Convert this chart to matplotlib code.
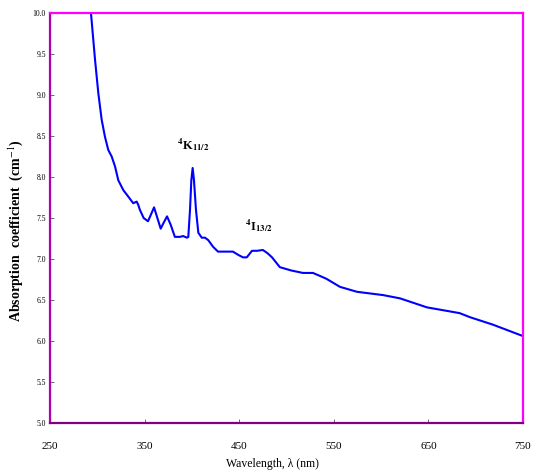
import matplotlib
matplotlib.use("Agg")
import matplotlib.pyplot as plt

plt.rcParams["mathtext.fontset"] = "stix"

# Absorption spectrum (wavelength in nm, absorption coefficient in cm^-1)
wavelength = [292.5, 293.3, 297.6, 301.1, 304.6, 308.1, 311.6, 315.2, 318.7, 322.2,
              327.5, 332.8, 338.0, 341.6, 343.3, 345.0, 349.0, 353.6, 357.0, 360.0,
              363.5, 367.0, 370.5, 373.7, 377.5, 382.0, 387.4, 390.6, 394.8, 396.2,
              398.0, 399.4, 400.8, 402.2, 404.3, 406.8, 410.4, 413.8, 417.3, 422.3,
              427.6, 435.0, 443.4, 449.0, 454.0, 458.0, 463.5, 469.0, 475.0, 480.0,
              484.7, 493.0, 505.0, 517.4, 528.0, 542.0, 556.6, 574.5, 602.0, 620.0,
              648.5, 683.0, 694.0, 718.0, 750.0]
absorption = [10.15, 10.00, 9.43, 9.02, 8.70, 8.49, 8.33, 8.25, 8.13, 7.96,
              7.84, 7.76, 7.68, 7.70, 7.66, 7.60, 7.50, 7.46, 7.55, 7.63,
              7.50, 7.37, 7.45, 7.52, 7.42, 7.27, 7.27, 7.28, 7.26, 7.27,
              7.60, 7.96, 8.11, 7.96, 7.60, 7.32, 7.26, 7.26, 7.23, 7.15,
              7.09, 7.09, 7.09, 7.05, 7.02, 7.02, 7.10, 7.10, 7.11, 7.07,
              7.02, 6.90, 6.86, 6.83, 6.83, 6.76, 6.66, 6.60, 6.56, 6.52,
              6.41, 6.34, 6.29, 6.20, 6.06]

x_ticks = [250, 350, 450, 550, 650, 750]
y_ticks = [5.0, 5.5, 6.0, 6.5, 7.0, 7.5, 8.0, 8.5, 9.0, 9.5, 10.0]

serif = ["Liberation Serif", "DejaVu Serif"]

fig = plt.figure(figsize=(5.34, 4.70), dpi=100)
ax = fig.add_axes([50 / 534, 47 / 470, 473 / 534, 410 / 470])

ax.plot(wavelength, absorption, color="#0000ff", lw=1.5,
        solid_joinstyle="round", solid_capstyle="round")

ax.set_xlim(250, 750)
ax.set_ylim(5.0, 10.0)
ax.set_xticks(x_ticks)
ax.set_yticks(y_ticks)
ax.set_xticklabels([str(v) for v in x_ticks], fontsize=8, family=serif)
ax.set_yticklabels([f"{v:.1f}" for v in y_ticks], fontsize=5.5, family=serif)
ax.tick_params(axis="x", direction="in", length=3, width=0.6, color="#555555", pad=14)
ax.tick_params(axis="y", direction="in", length=3, width=0.6, color="#555555", pad=3)

# Frame: magenta box with a darker edge on the left and bottom
for side in ["top", "right", "left", "bottom"]:
    ax.spines[side].set_color("#ff00ff")
    ax.spines[side].set_linewidth(1.6)
ax.spines["left"].set_color("#b000b0")
ax.spines["bottom"].set_color("#800080")

ax.set_ylabel("Absorption  coefficient  (cm$^{-1}$)", fontsize=10,
              fontweight="bold", family=serif)
ax.yaxis.set_label_coords(-0.052, 0.47)
ax.set_xlabel("Wavelength, λ (nm)", fontsize=8.5, family=serif)
ax.xaxis.set_label_coords(0.47, -0.085)

# Transition labels
ax.text(401, 8.39, r"$^{\mathbf{4}}$K$_{\mathbf{11/2}}$", fontsize=9,
        fontweight="bold", family=serif, ha="center", va="center")
ax.text(471, 7.41, r"$^{\mathbf{4}}$I$_{\mathbf{13/2}}$", fontsize=9,
        fontweight="bold", family=serif, ha="center", va="center")

fig.savefig("out.png", dpi=100)
